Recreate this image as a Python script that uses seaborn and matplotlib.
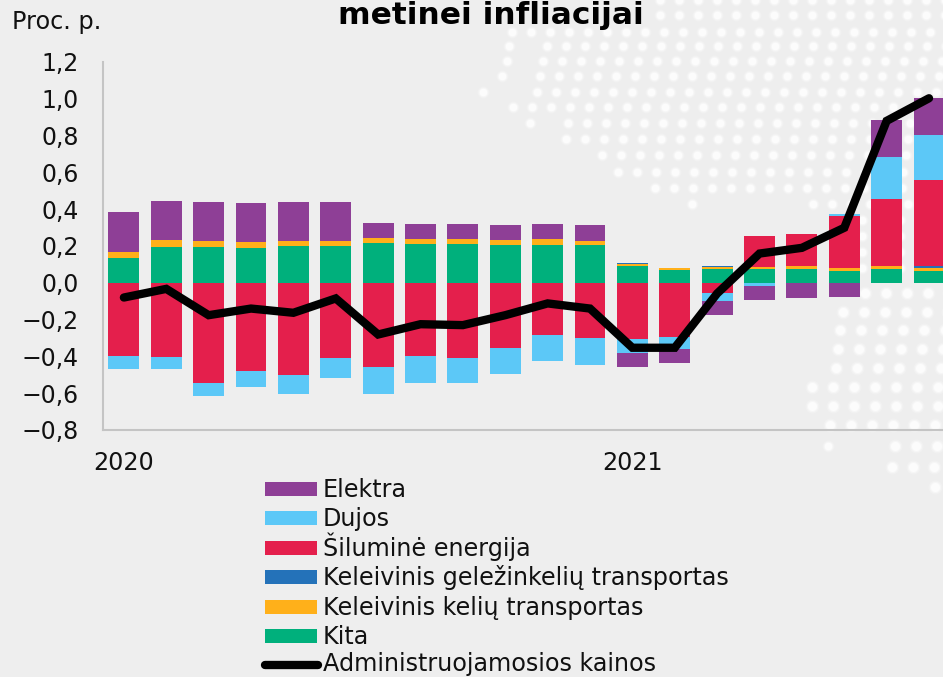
import numpy as np
import pandas as pd
import seaborn as sns
import matplotlib.pyplot as plt
from matplotlib.patches import Rectangle

# data
menesiai = ["2020-01", "2020-02", "2020-03", "2020-04", "2020-05", "2020-06", "2020-07", "2020-08", "2020-09", "2020-10",
            "2020-11", "2020-12", "2021-01", "2021-02", "2021-03", "2021-04", "2021-05", "2021-06", "2021-07", "2021-08"]
kita = [0.136, 0.197, 0.192, 0.188, 0.199, 0.199, 0.216, 0.212, 0.212, 0.207,
        0.208, 0.203, 0.091, 0.069, 0.076, 0.074, 0.074, 0.063, 0.074, 0.065]
keliu = [0.031, 0.035, 0.033, 0.033, 0.027, 0.027, 0.027, 0.025, 0.025, 0.027,
         0.028, 0.025, 0.010, 0.009, 0.009, 0.011, 0.015, 0.015, 0.015, 0.014]
gelezinkeliu = [0, 0, 0, 0, 0, 0, 0, 0, 0, 0,
                0, 0, 0.005, 0.002, 0.005, 0.001, 0.001, 0.001, 0.001, 0.014]
siluma = [-0.399, -0.404, -0.543, -0.480, -0.500, -0.409, -0.460, -0.399, -0.408, -0.353,
          -0.283, -0.299, -0.306, -0.293, -0.058, 0.167, 0.177, 0.286, 0.364, 0.464]
dujos = [-0.067, -0.067, -0.071, -0.087, -0.103, -0.111, -0.143, -0.143, -0.137, -0.140,
         -0.143, -0.150, -0.074, -0.067, -0.040, -0.016, 0.0, 0.009, 0.230, 0.245]
elektra = [0.217, 0.212, 0.213, 0.212, 0.212, 0.212, 0.081, 0.082, 0.082, 0.079,
           0.083, 0.085, -0.077, -0.075, -0.078, -0.076, -0.083, -0.078, 0.201, 0.201]
admin_kainos = [-0.080, -0.033, -0.176, -0.140, -0.163, -0.085, -0.281, -0.225, -0.230, -0.176,
                -0.112, -0.140, -0.353, -0.353, -0.058, 0.159, 0.190, 0.299, 0.880, 1.003]

serijos = ["Kita", "Keleivinis kelių transportas", "Keleivinis geležinkelių transportas",
           "Šiluminė energija", "Dujos", "Elektra"]
spalvos = ["#00B07C", "#FFB01A", "#2472B9", "#E41F4C", "#5CC8F7", "#8E3F96"]
y_reiksmes = [-0.8, -0.6, -0.4, -0.2, 0.0, 0.2, 0.4, 0.6, 0.8, 1.0, 1.2]
y_etiketes = ["−0,8", "−0,6", "−0,4", "−0,2", "0,0", "0,2", "0,4", "0,6", "0,8", "1,0", "1,2"]

# background map dots, rows in pixels: y, first x
virsus_y = [0, 15, 32, 46, 61, 76, 92, 107, 123, 139, 155, 172, 188, 204, 220, 236, 252, 268]
virsus_nuo = [660, 660, 512, 547, 543, 540, 537, 513, 568, 566, 602, 618, 655, 813, 862, 862, 862, 862]
apacia_y = [293, 312, 330, 349, 368, 387, 406, 425, 446, 467, 487]
apacia_nuo = [865, 843, 840, 838, 836, 812, 812, 830, 895, 892, 935]
pavieniai_x = [509, 507, 502, 483, 530, 692, 828]
pavieniai_y = [46, 61, 76, 92, 123, 204, 446]

sns.set_theme(style="white")
plt.rcParams['font.family'] = ['DejaVu Sans']
FONTAS = 17.2

fig = plt.figure(figsize=(9.43, 6.77), dpi=100, facecolor="#eeeeee")


def taskai(a, xs, ys, dydis):
    # soft edged dots, three layers
    for k, alfa in [(2.4, 0.2), (1.6, 0.4), (1.0, 0.7)]:
        a.scatter(xs, ys, s=dydis * k, color="white", alpha=alfa, linewidths=0)


bg = fig.add_axes([0, 0, 1, 1])
bg.set_xlim(0, 943)
bg.set_ylim(677, 0)
bg.axis("off")
for y, x0 in zip(virsus_y, virsus_nuo):
    xs = np.arange(x0, 950, 19)
    taskai(bg, xs, [y] * len(xs), 30)
for y, x0 in zip(apacia_y, apacia_nuo):
    xs = np.arange(x0, 950, 21)
    taskai(bg, xs, [y] * len(xs), 42)
taskai(bg, pavieniai_x, pavieniai_y, 30)

ax = fig.add_axes([102.7 / 943, 1 - 430 / 677, 1 - 102.7 / 943, 368 / 677])
ax.patch.set_alpha(0)

# stacked bars, positive and negative parts grow away from zero
df = pd.DataFrame({"menuo": menesiai, "Kita": kita, "Keleivinis kelių transportas": keliu,
                   "Keleivinis geležinkelių transportas": gelezinkeliu, "Šiluminė energija": siluma,
                   "Dujos": dujos, "Elektra": elektra})
teig = np.zeros(len(df))
neig = np.zeros(len(df))
for s, c in zip(serijos, spalvos):
    v = df[s].to_numpy()
    apacia = np.where(v >= 0, teig, neig)
    sns.barplot(x=df["menuo"], y=v, bottom=apacia, color=c, saturation=1, width=0.73,
                linewidth=0, ax=ax, zorder=2)
    teig = teig + np.clip(v, 0, None)
    neig = neig + np.clip(v, None, 0)

sns.lineplot(x=df["menuo"], y=admin_kainos, color="black", linewidth=6, ax=ax, zorder=3,
             solid_capstyle="round", solid_joinstyle="miter", errorbar=None, sort=False)

ax.set_xlim(-0.5, 19.33)
ax.set_ylim(-0.8, 1.2)
ax.set_xlabel("")
ax.set_ylabel("")
ax.set_yticks(y_reiksmes)
ax.set_yticklabels(y_etiketes, fontsize=17, color="#111111")
ax.set_xticks([0, 12])
ax.set_xticklabels(["2020", "2021"], fontsize=FONTAS, color="#111111")
ax.tick_params(axis="y", length=0, pad=17)
ax.tick_params(axis="x", length=0, pad=15)
ax.grid(False)
sns.despine(ax=ax)
for k in ["left", "bottom"]:
    ax.spines[k].set_color("#c4c4c4")
    ax.spines[k].set_linewidth(1.5)

fig.text(12 / 943, 1 - 22 / 677, "Proc. p.", fontsize=FONTAS, color="#111111", ha="left", va="center")
fig.text(491 / 943, 1 - 16 / 677, "metinei infliacijai", fontsize=22.5, fontweight="bold",
         color="black", ha="center", va="center")

# legend by hand, rows must stay evenly spaced even with the Š
eilutes_y = [489, 518, 548, 577, 607, 636]
for y, s, c in zip(eilutes_y, serijos[::-1], spalvos[::-1]):
    bg.add_patch(Rectangle((265, y - 7), 52, 14, color=c, linewidth=0))
    bg.text(323, y + 8, s, fontsize=FONTAS, color="#111111", va="baseline")
bg.plot([265, 318], [665, 665], color="black", linewidth=6, solid_capstyle="round")
bg.text(323, 671, "Administruojamosios kainos", fontsize=FONTAS, color="#111111", va="baseline")
bg.set_xlim(0, 943)
bg.set_ylim(677, 0)

fig.savefig("out.png", dpi=100, facecolor=fig.get_facecolor())
